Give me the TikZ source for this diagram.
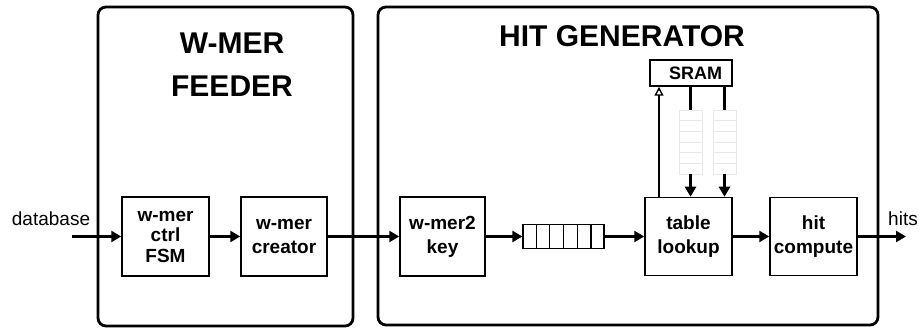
\documentclass[tikz,border=0pt]{standalone}
\usepackage{fontspec}
\setmainfont{Liberation Sans}
\usetikzlibrary{arrows.meta,calc}
\tikzset{
    unit/.style={draw, line width=2.8pt, rounded corners=8pt},
    blk/.style={draw, line width=1.5pt, minimum width=86pt, minimum height=79pt,
        inner sep=0pt, align=center, font=\fontsize{19}{24}\selectfont\bfseries},
    title/.style={align=center, font=\fontsize{30}{43}\selectfont\bfseries},
    wire/.style={line width=2.8pt, -{Triangle[length=10pt,width=11pt]}},
    fifo/.style={draw, line width=1.2pt, inner sep=0pt},
}
% cell dividers of a queue node: #1 name, #2 cells, #3 h (horizontal) or v
\newcommand\FifoCells[3]{%
    \foreach \i in {1,...,\numexpr#2-1\relax} {
        \if#3h
            \draw[line width=1.2pt] ($(#1.north west)!\i/#2!(#1.north east)$) -- ($(#1.south west)!\i/#2!(#1.south east)$);
        \else
            \draw[gray!18, line width=0.8pt] ($(#1.north west)!\i/#2!(#1.south west)$) -- ($(#1.north east)!\i/#2!(#1.south east)$);
        \fi
    }
}

\begin{document}
\begin{tikzpicture}[x=1pt,y=-1pt]
    \useasboundingbox (0,0) rectangle (924,328);

    % the two units
    \draw[unit] (98,7) rectangle (353,326);
    \draw[unit] (378,7) rectangle (878,325);
    \node[title] (feedtitle) at (232,65) {W-MER\\FEEDER};
    \node[title] (gentitle) at (622,36) {HIT GENERATOR};

    % datapath
    \node[blk, minimum width=87pt, font=\fontsize{19}{20.5}\selectfont\bfseries] (fsm) at (165.5,236.5) {w-mer\\ctrl\\FSM};
    \node[blk] (creator) at (284,236.5) {w-mer\\creator};
    \node[blk, minimum width=85pt] (key) at (442.5,236.5) {w-mer2\\key};
    \node[fifo, minimum width=81pt, minimum height=24pt] (keyq) at (563.5,236.5) {};
    \FifoCells{keyq}{6}{h}
    \node[blk, minimum width=87pt, minimum height=78pt] (lookup) at (688.5,236.5) {table\\lookup};
    \node[blk, minimum width=87pt, minimum height=78pt] (compute) at (813.5,236.5) {hit\\compute};

    % memory side
    \node[draw, line width=1.5pt, minimum width=82pt, minimum height=26pt, inner sep=0pt,
        font=\fontsize{18}{20}\selectfont\bfseries] (sram) at (691,73) {\hspace{9pt}SRAM};
    \node[draw=gray!18, line width=0.8pt, minimum width=23pt, minimum height=64pt, inner sep=0pt] (rdq1) at (690.5,142) {};
    \node[draw=gray!18, line width=0.8pt, minimum width=23pt, minimum height=64pt, inner sep=0pt] (rdq2) at (724.5,142) {};
    \FifoCells{rdq1}{6}{v}
    \FifoCells{rdq2}{6}{v}

    \coordinate (dbin) at (72,236.5);
    \coordinate (hitsout) at (906,236.5);
    \coordinate (addr) at (659,197);
    \node[font=\fontsize{19}{22}\selectfont] (dblabel) at (51,219) {database};
    \node[font=\fontsize{19}{22}\selectfont] (hitslabel) at (903,219) {hits};

    \draw[wire] (dbin) -- (fsm);
    \draw[wire] (fsm) -- (creator);
    \draw[wire] (creator) -- (key);
    \draw[wire] (key) -- (keyq);
    \draw[wire] (keyq) -- (lookup);
    \draw[wire] (lookup) -- (compute);
    \draw[wire] (compute) -- (hitsout);

    \draw[line width=2.8pt, -{Triangle[open,length=9pt,width=9pt,line width=1.4pt]}] (addr) -- (addr |- sram.south);
    \foreach \q in {rdq1,rdq2} {
        \draw[line width=2.8pt] (\q.north |- sram.south) -- (\q.north);
        \draw[wire] (\q.south) -- (\q.south |- lookup.north);
    }
\end{tikzpicture}
\end{document}
